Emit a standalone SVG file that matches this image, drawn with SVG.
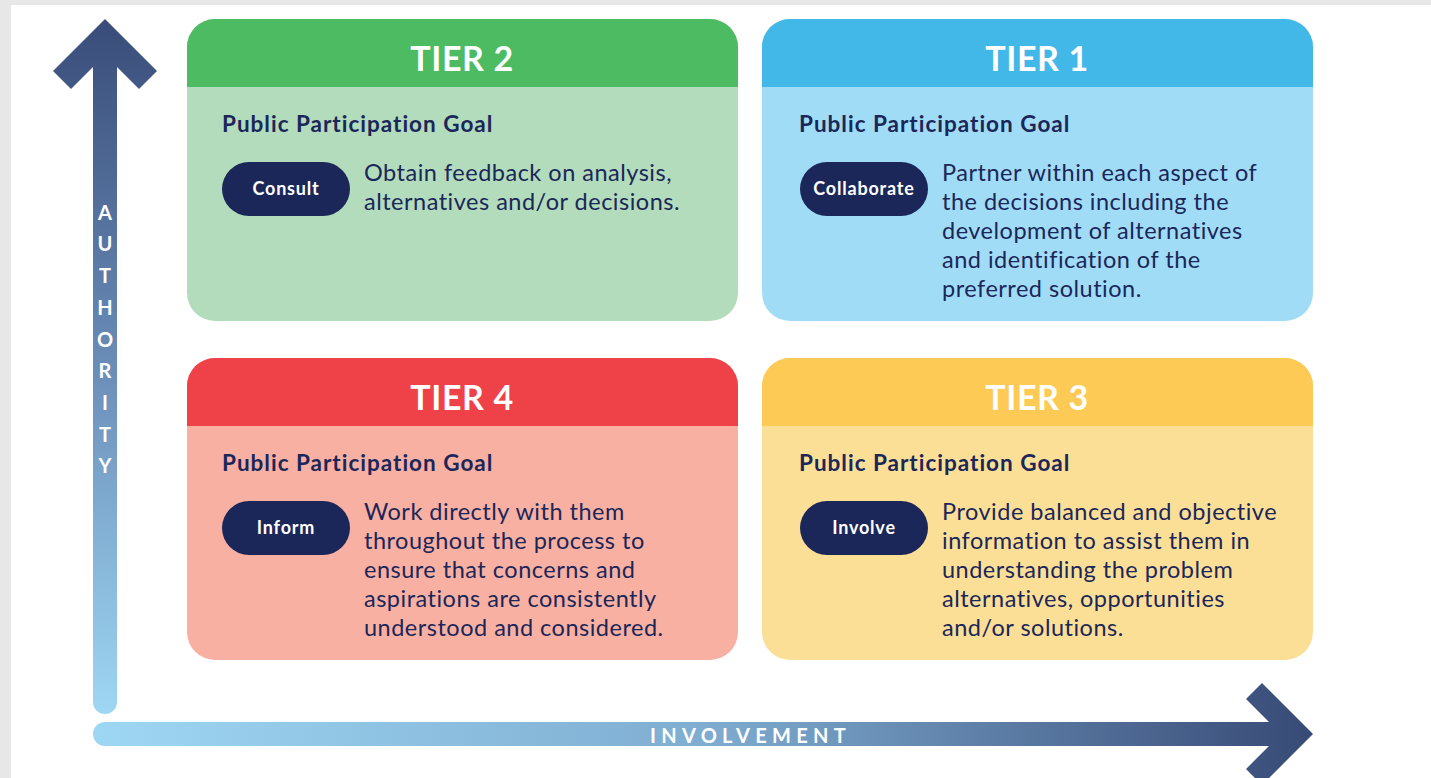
<svg xmlns="http://www.w3.org/2000/svg" width="1431" height="778" viewBox="0 0 1431 778">
<defs>
<linearGradient id="gv" x1="0" y1="19" x2="0" y2="714" gradientUnits="userSpaceOnUse">
<stop offset="0" stop-color="#394c79"/>
<stop offset="0.5" stop-color="#6a8db8"/>
<stop offset="1" stop-color="#9ed7f3"/>
</linearGradient>
<linearGradient id="gh" x1="93" y1="0" x2="1313" y2="0" gradientUnits="userSpaceOnUse">
<stop offset="0" stop-color="#9ed7f3"/>
<stop offset="0.5" stop-color="#7fadd1"/>
<stop offset="1" stop-color="#374a76"/>
</linearGradient>
<style>
.tier{font-family:Lato,"Open Sans",sans-serif;font-weight:700;font-size:34px;letter-spacing:0.6px;fill:#ffffff;text-anchor:middle}
.goal{font-family:Lato,"Open Sans",sans-serif;font-weight:700;font-size:22.5px;letter-spacing:1px;fill:#1b2659}
.pill{fill:#1b2659}
.ptxt{font-family:Lato,"Open Sans",sans-serif;font-weight:700;font-size:18px;letter-spacing:0.8px;fill:#ffffff;text-anchor:middle}
.desc{font-family:Lato,"Open Sans",sans-serif;font-size:23.5px;letter-spacing:0.5px;fill:#1b2659}
.axis{font-family:Lato,"Open Sans",sans-serif;font-weight:700;font-size:20px;fill:#ffffff}
</style>
</defs>
<rect x="0" y="0" width="1431" height="778" fill="#e6e7e6"/>
<rect x="11" y="5" width="1420" height="773" fill="#ffffff"/>

<g id="connectors">
<path id="authority-arrow" d="M105,19 L157,71 L139,89 L117,67 L117,702 A12,12 0 0 1 93,702 L93,67 L71,89 L53,71 Z" fill="url(#gv)"/>
<path id="involvement-arrow" d="M1313,734 L1262,683 L1246,699 L1269,722 L105,722 A12,12 0 0 0 105,746 L1269,746 L1246,769 L1262,785 Z" fill="url(#gh)"/>
<g class="axis" text-anchor="middle">
<text x="105" y="220">A</text>
<text x="105" y="251">U</text>
<text x="105" y="283">T</text>
<text x="105" y="315">H</text>
<text x="105" y="347">O</text>
<text x="105" y="378">R</text>
<text x="105" y="410">I</text>
<text x="105" y="442">T</text>
<text x="105" y="473">Y</text>
</g>
<text class="axis" x="650" y="743" letter-spacing="5.3">INVOLVEMENT</text>
</g>

<g id="tier2">
<rect x="187" y="19" width="551" height="302" rx="28" fill="#b2dcbb"/>
<path d="M187,87 L187,47 A28,28 0 0 1 215,19 L710,19 A28,28 0 0 1 738,47 L738,87 Z" fill="#4dbb61"/>
<text class="tier" x="462" y="71">TIER 2</text>
<text class="goal" x="222" y="132">Public Participation Goal</text>
<rect class="pill" x="222" y="162" width="128" height="54" rx="27"/>
<text class="ptxt" x="286" y="195">Consult</text>
<text class="desc" x="364" y="181">Obtain feedback on analysis,</text>
<text class="desc" x="364" y="210">alternatives and/or decisions.</text>
</g>

<g id="tier1">
<rect x="762" y="19" width="551" height="302" rx="28" fill="#a1dcf7"/>
<path d="M762,87 L762,47 A28,28 0 0 1 790,19 L1285,19 A28,28 0 0 1 1313,47 L1313,87 Z" fill="#42b8e8"/>
<text class="tier" x="1037" y="71">TIER 1</text>
<text class="goal" x="799" y="132">Public Participation Goal</text>
<rect class="pill" x="800" y="162" width="128" height="54" rx="27"/>
<text class="ptxt" x="864" y="195">Collaborate</text>
<text class="desc" x="942" y="181">Partner within each aspect of</text>
<text class="desc" x="942" y="210">the decisions including the</text>
<text class="desc" x="942" y="239">development of alternatives</text>
<text class="desc" x="942" y="268">and identification of the</text>
<text class="desc" x="942" y="297">preferred solution.</text>
</g>

<g id="tier4">
<rect x="187" y="358" width="551" height="302" rx="28" fill="#f8b0a2"/>
<path d="M187,426 L187,386 A28,28 0 0 1 215,358 L710,358 A28,28 0 0 1 738,386 L738,426 Z" fill="#ef4148"/>
<text class="tier" x="462" y="410">TIER 4</text>
<text class="goal" x="222" y="471">Public Participation Goal</text>
<rect class="pill" x="222" y="501" width="128" height="54" rx="27"/>
<text class="ptxt" x="286" y="534">Inform</text>
<text class="desc" x="364" y="520">Work directly with them</text>
<text class="desc" x="364" y="549">throughout the process to</text>
<text class="desc" x="364" y="578">ensure that concerns and</text>
<text class="desc" x="364" y="607">aspirations are consistently</text>
<text class="desc" x="364" y="636">understood and considered.</text>
</g>

<g id="tier3">
<rect x="762" y="358" width="551" height="302" rx="28" fill="#fcdf97"/>
<path d="M762,426 L762,386 A28,28 0 0 1 790,358 L1285,358 A28,28 0 0 1 1313,386 L1313,426 Z" fill="#fcca55"/>
<text class="tier" x="1037" y="410">TIER 3</text>
<text class="goal" x="799" y="471">Public Participation Goal</text>
<rect class="pill" x="800" y="501" width="128" height="54" rx="27"/>
<text class="ptxt" x="864" y="534">Involve</text>
<text class="desc" x="942" y="520">Provide balanced and objective</text>
<text class="desc" x="942" y="549">information to assist them in</text>
<text class="desc" x="942" y="578">understanding the problem</text>
<text class="desc" x="942" y="607">alternatives, opportunities</text>
<text class="desc" x="942" y="636">and/or solutions.</text>
</g>
</svg>
